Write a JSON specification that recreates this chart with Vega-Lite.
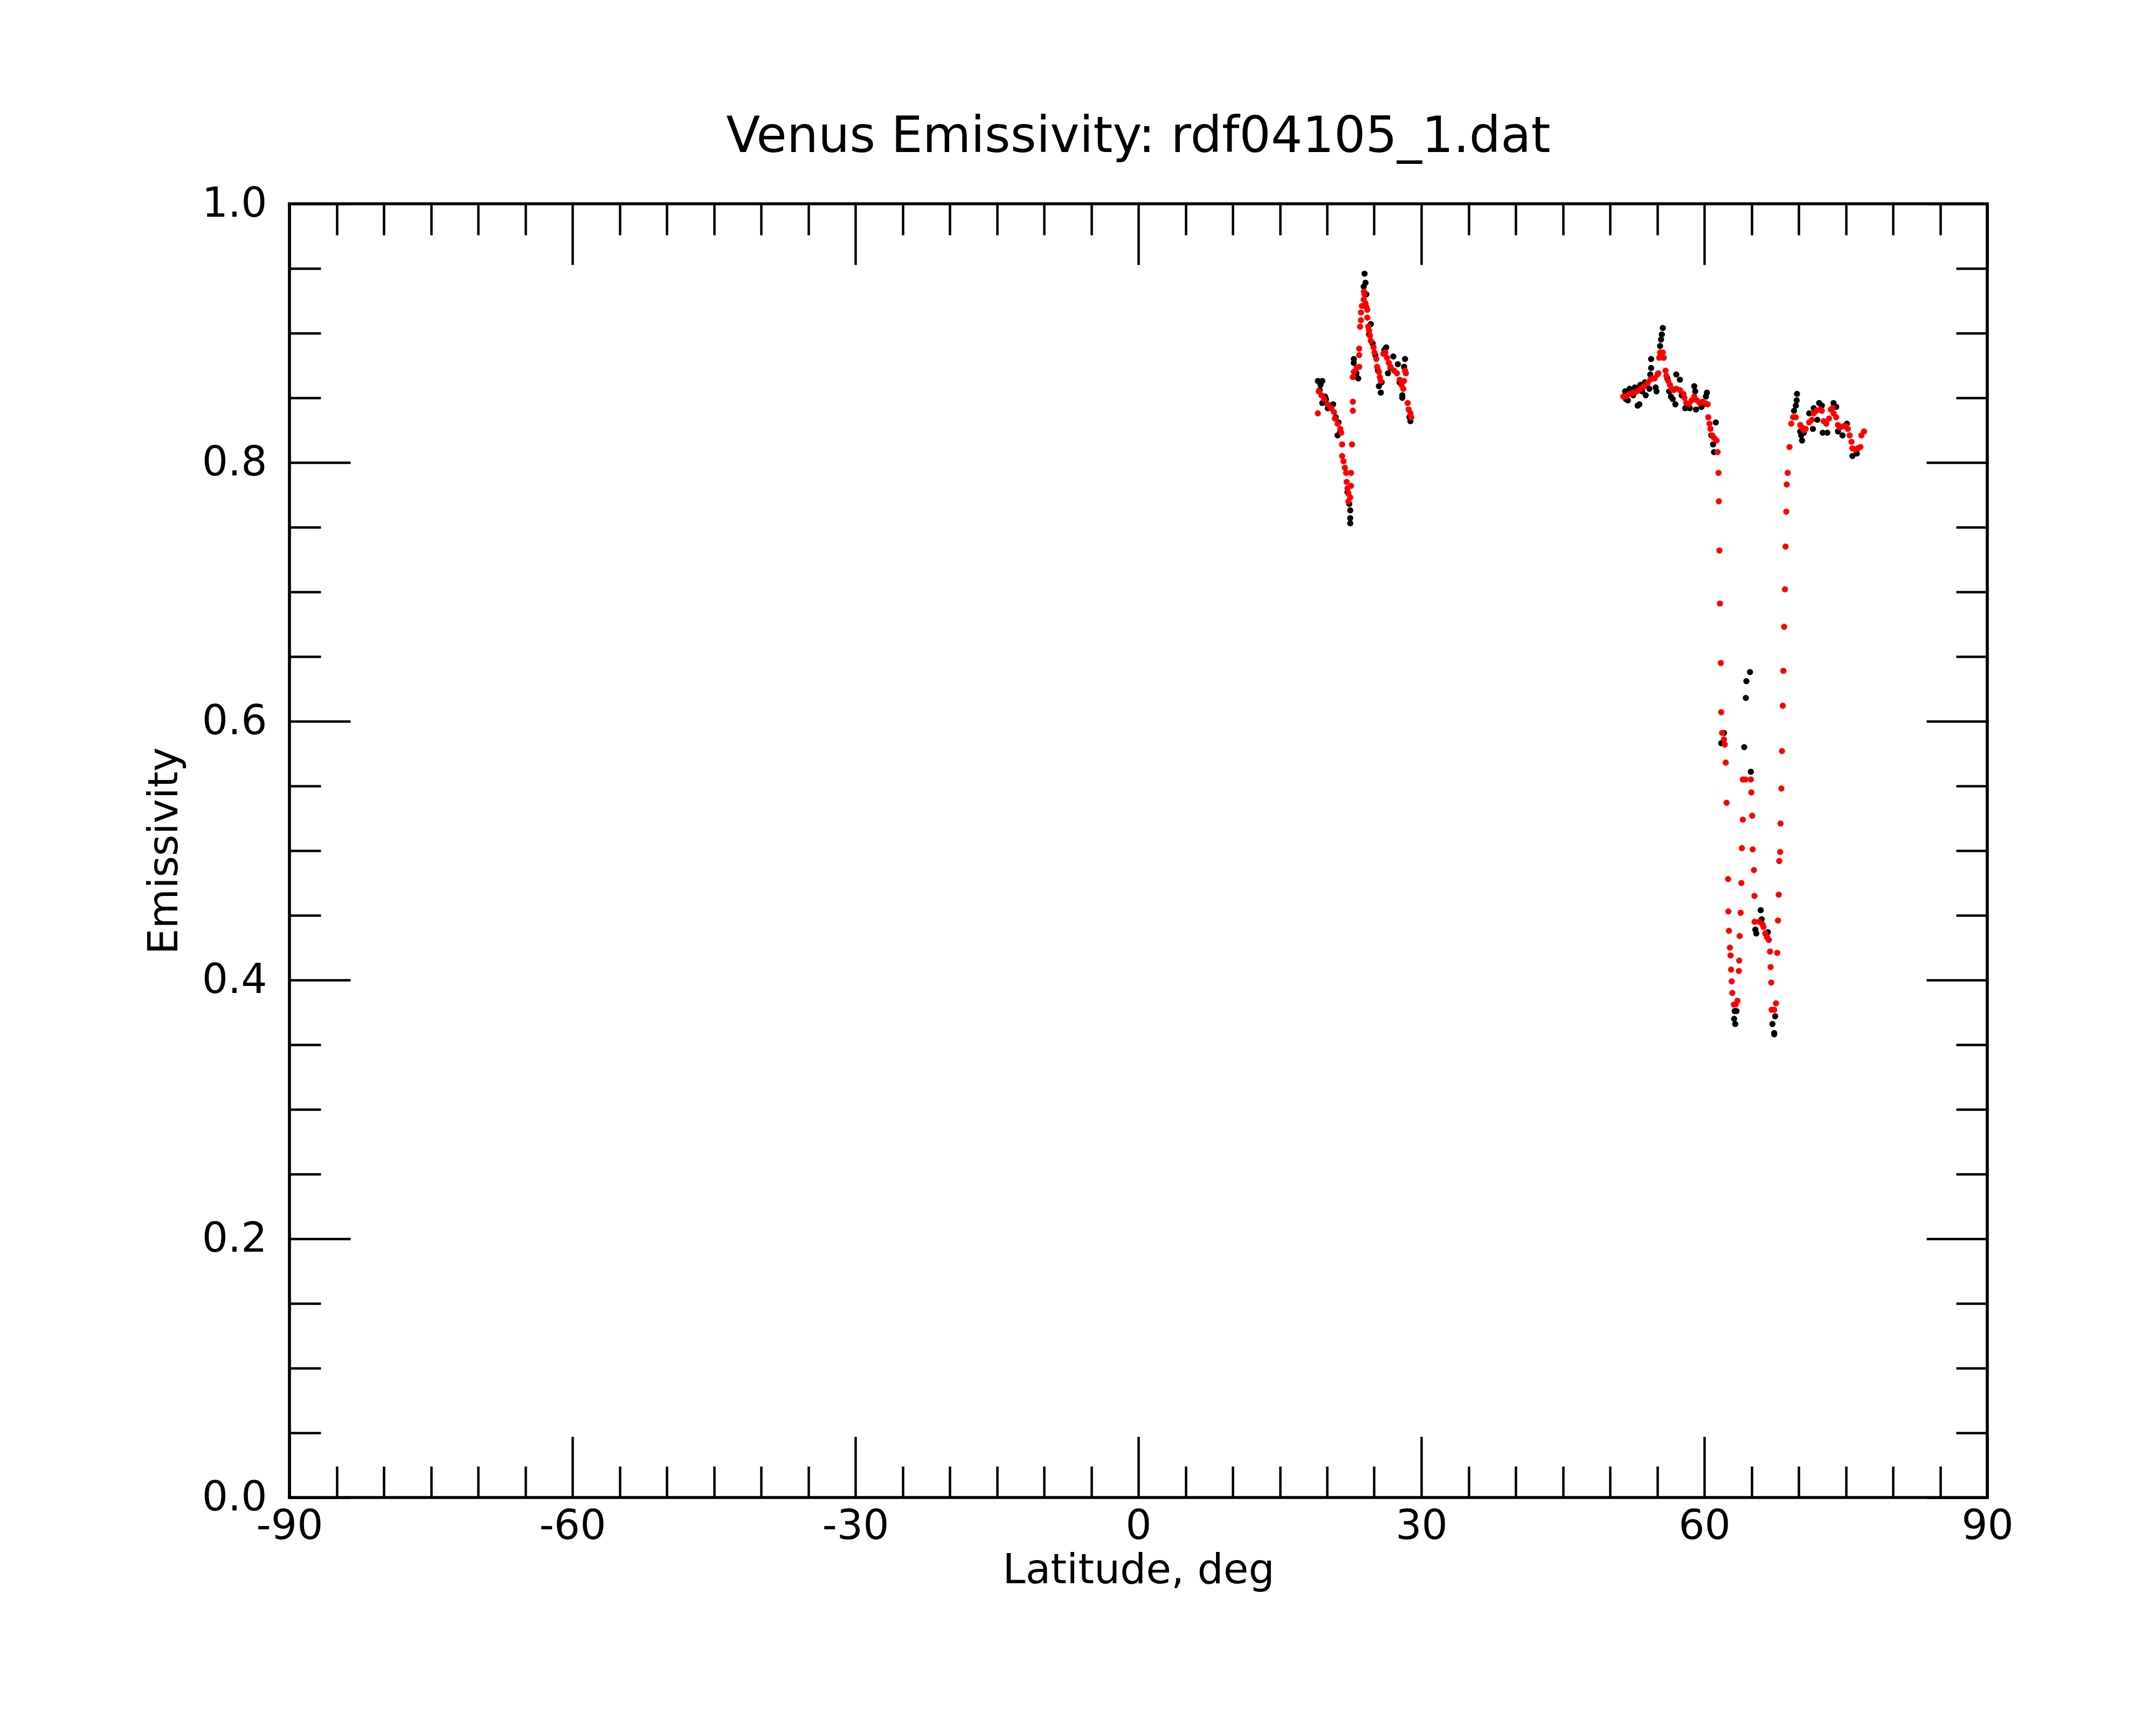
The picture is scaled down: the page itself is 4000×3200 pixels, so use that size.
{
  "$schema": "https://vega.github.io/schema/vega-lite/v6.json",
  "width": 3150,
  "height": 2400,
  "autosize": {"type": "none"},
  "padding": {"left": 537, "top": 378, "right": 313, "bottom": 422},
  "background": "white",
  "title": {
    "text": "Venus Emissivity: rdf04105_1.dat",
    "font": "DejaVu Sans",
    "fontSize": 92,
    "fontWeight": "normal",
    "color": "black",
    "anchor": "middle",
    "offset": 39
  },
  "datasets": {
    "black": [
      {"lat":19.03,"e":0.863},{"lat":19.50,"e":0.863},{"lat":19.31,"e":0.860},{"lat":19.22,"e":0.856},
      {"lat":19.50,"e":0.846},{"lat":19.79,"e":0.851},{"lat":19.89,"e":0.849},{"lat":20.08,"e":0.842},
      {"lat":20.36,"e":0.844},{"lat":20.65,"e":0.845},{"lat":20.93,"e":0.835},{"lat":21.22,"e":0.831},
      {"lat":21.12,"e":0.821},{"lat":21.41,"e":0.824},{"lat":22.17,"e":0.777},{"lat":22.36,"e":0.768},
      {"lat":22.46,"e":0.763},{"lat":22.46,"e":0.757},{"lat":22.46,"e":0.753},{"lat":22.84,"e":0.880},
      {"lat":22.84,"e":0.877},{"lat":23.12,"e":0.869},{"lat":23.31,"e":0.865},{"lat":23.98,"e":0.946},
      {"lat":24.08,"e":0.939},{"lat":23.89,"e":0.936},{"lat":24.17,"e":0.930},{"lat":24.08,"e":0.921},
      {"lat":24.65,"e":0.907},{"lat":24.46,"e":0.899},{"lat":24.84,"e":0.892},{"lat":25.12,"e":0.883},
      {"lat":25.41,"e":0.871},{"lat":25.79,"e":0.862},{"lat":25.50,"e":0.859},{"lat":25.70,"e":0.854},
      {"lat":26.08,"e":0.887},{"lat":26.27,"e":0.889},{"lat":26.46,"e":0.869},{"lat":26.74,"e":0.873},
      {"lat":27.03,"e":0.882},{"lat":27.51,"e":0.876},{"lat":27.70,"e":0.862},{"lat":27.98,"e":0.852},
      {"lat":27.98,"e":0.850},{"lat":28.17,"e":0.874},{"lat":28.27,"e":0.880},{"lat":28.74,"e":0.835},
      {"lat":28.84,"e":0.832},
      {"lat":51.60,"e":0.855},{"lat":51.70,"e":0.849},{"lat":51.89,"e":0.848},{"lat":52.08,"e":0.857},
      {"lat":52.46,"e":0.852},{"lat":52.65,"e":0.858},{"lat":52.93,"e":0.844},{"lat":53.12,"e":0.845},
      {"lat":53.22,"e":0.860},{"lat":53.41,"e":0.855},{"lat":53.70,"e":0.862},{"lat":53.79,"e":0.852},
      {"lat":54.17,"e":0.857},{"lat":54.27,"e":0.868},{"lat":54.36,"e":0.880},{"lat":54.36,"e":0.873},
      {"lat":54.84,"e":0.858},{"lat":54.93,"e":0.855},{"lat":55.31,"e":0.890},{"lat":55.41,"e":0.895},
      {"lat":55.50,"e":0.899},{"lat":55.60,"e":0.904},{"lat":56.08,"e":0.865},{"lat":56.27,"e":0.855},
      {"lat":56.46,"e":0.851},{"lat":56.65,"e":0.849},{"lat":56.93,"e":0.845},{"lat":57.03,"e":0.868},
      {"lat":57.41,"e":0.864},{"lat":57.60,"e":0.852},{"lat":57.98,"e":0.842},{"lat":58.46,"e":0.842},
      {"lat":58.93,"e":0.859},{"lat":59.03,"e":0.855},{"lat":59.12,"e":0.841},{"lat":59.70,"e":0.843},
      {"lat":59.89,"e":0.845},{"lat":60.17,"e":0.851},{"lat":60.27,"e":0.854},{"lat":60.74,"e":0.821},
      {"lat":60.93,"e":0.814},{"lat":61.03,"e":0.808},{"lat":61.22,"e":0.831},{"lat":61.79,"e":0.583},
      {"lat":62.08,"e":0.591},{"lat":63.16,"e":0.370},{"lat":63.22,"e":0.376},{"lat":63.28,"e":0.366},
      {"lat":63.41,"e":0.376},{"lat":64.23,"e":0.580},{"lat":64.40,"e":0.618},{"lat":64.46,"e":0.631},
      {"lat":64.84,"e":0.638},{"lat":64.93,"e":0.561},{"lat":65.41,"e":0.439},{"lat":65.51,"e":0.436},
      {"lat":65.98,"e":0.454},{"lat":66.08,"e":0.447},{"lat":66.74,"e":0.437},{"lat":67.22,"e":0.366},
      {"lat":67.41,"e":0.359},{"lat":67.41,"e":0.358},{"lat":67.51,"e":0.372},{"lat":69.51,"e":0.840},
      {"lat":69.70,"e":0.844},{"lat":69.79,"e":0.848},{"lat":69.83,"e":0.853},{"lat":70.17,"e":0.824},
      {"lat":70.27,"e":0.821},{"lat":70.36,"e":0.817},{"lat":70.55,"e":0.823},{"lat":71.12,"e":0.838},
      {"lat":71.51,"e":0.826},{"lat":71.60,"e":0.842},{"lat":71.98,"e":0.833},{"lat":72.17,"e":0.846},
      {"lat":72.46,"e":0.844},{"lat":72.55,"e":0.823},{"lat":73.03,"e":0.823},{"lat":73.70,"e":0.846},
      {"lat":73.98,"e":0.843},{"lat":74.17,"e":0.824},{"lat":74.65,"e":0.821},{"lat":75.12,"e":0.830},
      {"lat":75.70,"e":0.805},{"lat":76.17,"e":0.807}
    ],
    "red": [
      {"lat":19.12,"e":0.855},{"lat":19.41,"e":0.852},{"lat":19.70,"e":0.849},{"lat":20.08,"e":0.845},
      {"lat":20.46,"e":0.842},{"lat":20.74,"e":0.839},{"lat":20.84,"e":0.834},{"lat":21.12,"e":0.830},
      {"lat":21.41,"e":0.826},{"lat":21.51,"e":0.823},{"lat":19.03,"e":0.838},{"lat":21.60,"e":0.814},
      {"lat":22.65,"e":0.814},{"lat":21.60,"e":0.805},{"lat":21.75,"e":0.801},{"lat":21.89,"e":0.796},
      {"lat":22.02,"e":0.792},{"lat":22.55,"e":0.792},{"lat":22.08,"e":0.785},{"lat":22.55,"e":0.782},
      {"lat":22.17,"e":0.780},{"lat":22.27,"e":0.776},{"lat":22.46,"e":0.773},{"lat":22.27,"e":0.770},
      {"lat":22.74,"e":0.847},{"lat":22.74,"e":0.840},{"lat":22.84,"e":0.870},{"lat":23.12,"e":0.873},
      {"lat":23.41,"e":0.874},{"lat":22.74,"e":0.866},{"lat":23.41,"e":0.888},{"lat":23.41,"e":0.883},
      {"lat":23.92,"e":0.932},{"lat":23.98,"e":0.930},{"lat":23.89,"e":0.926},{"lat":24.08,"e":0.923},
      {"lat":24.17,"e":0.920},{"lat":24.27,"e":0.918},{"lat":23.70,"e":0.921},{"lat":23.60,"e":0.916},
      {"lat":23.60,"e":0.910},{"lat":23.51,"e":0.905},{"lat":24.27,"e":0.912},{"lat":24.36,"e":0.905},
      {"lat":24.46,"e":0.902},{"lat":24.55,"e":0.898},{"lat":24.65,"e":0.894},{"lat":24.93,"e":0.889},
      {"lat":25.03,"e":0.885},{"lat":25.22,"e":0.880},{"lat":25.31,"e":0.874},{"lat":25.50,"e":0.870},
      {"lat":25.60,"e":0.866},{"lat":25.70,"e":0.863},{"lat":25.98,"e":0.884},{"lat":26.17,"e":0.885},
      {"lat":26.36,"e":0.881},{"lat":26.55,"e":0.877},{"lat":26.74,"e":0.874},{"lat":27.12,"e":0.871},
      {"lat":27.41,"e":0.869},{"lat":27.70,"e":0.864},{"lat":27.89,"e":0.860},{"lat":28.08,"e":0.857},
      {"lat":28.27,"e":0.871},{"lat":28.36,"e":0.869},{"lat":28.17,"e":0.863},{"lat":28.55,"e":0.846},
      {"lat":28.65,"e":0.841},{"lat":28.84,"e":0.838},{"lat":28.93,"e":0.835},
      {"lat":51.41,"e":0.851},{"lat":51.70,"e":0.851},{"lat":52.08,"e":0.853},{"lat":52.46,"e":0.854},
      {"lat":52.84,"e":0.855},{"lat":53.22,"e":0.857},{"lat":53.60,"e":0.859},{"lat":53.98,"e":0.861},
      {"lat":54.27,"e":0.864},{"lat":54.46,"e":0.865},{"lat":54.74,"e":0.865},{"lat":55.03,"e":0.868},
      {"lat":55.12,"e":0.869},{"lat":55.22,"e":0.881},{"lat":55.31,"e":0.885},{"lat":55.60,"e":0.885},
      {"lat":55.70,"e":0.881},{"lat":55.89,"e":0.871},{"lat":55.98,"e":0.867},{"lat":56.17,"e":0.863},
      {"lat":56.36,"e":0.860},{"lat":56.55,"e":0.857},{"lat":56.74,"e":0.856},{"lat":57.03,"e":0.857},
      {"lat":57.41,"e":0.856},{"lat":57.79,"e":0.853},{"lat":57.89,"e":0.850},{"lat":58.08,"e":0.846},
      {"lat":58.36,"e":0.845},{"lat":58.65,"e":0.848},{"lat":58.93,"e":0.851},{"lat":59.22,"e":0.848},
      {"lat":59.50,"e":0.846},{"lat":59.79,"e":0.847},{"lat":60.08,"e":0.846},{"lat":60.36,"e":0.845},
      {"lat":60.42,"e":0.835},{"lat":60.55,"e":0.830},{"lat":60.65,"e":0.826},{"lat":60.84,"e":0.821},
      {"lat":61.03,"e":0.819},{"lat":61.31,"e":0.817},{"lat":61.41,"e":0.808},{"lat":61.50,"e":0.792},
      {"lat":61.54,"e":0.770},{"lat":61.60,"e":0.732},{"lat":61.66,"e":0.691},{"lat":61.75,"e":0.645},
      {"lat":61.79,"e":0.607},{"lat":61.89,"e":0.591},{"lat":62.08,"e":0.586},{"lat":62.17,"e":0.582},
      {"lat":62.27,"e":0.568},{"lat":62.36,"e":0.537},{"lat":62.52,"e":0.478},{"lat":62.55,"e":0.453},
      {"lat":62.61,"e":0.438},{"lat":62.71,"e":0.425},{"lat":62.78,"e":0.419},{"lat":62.84,"e":0.408},
      {"lat":62.90,"e":0.399},{"lat":62.97,"e":0.390},{"lat":63.13,"e":0.381},{"lat":63.32,"e":0.381},
      {"lat":63.51,"e":0.384},{"lat":63.66,"e":0.407},{"lat":63.70,"e":0.415},{"lat":63.75,"e":0.434},
      {"lat":63.85,"e":0.452},{"lat":63.93,"e":0.475},{"lat":63.98,"e":0.502},{"lat":64.08,"e":0.524},
      {"lat":64.08,"e":0.555},{"lat":64.36,"e":0.555},{"lat":64.93,"e":0.555},{"lat":64.99,"e":0.545},
      {"lat":65.07,"e":0.527},{"lat":65.13,"e":0.501},{"lat":65.26,"e":0.485},{"lat":65.32,"e":0.465},
      {"lat":65.32,"e":0.445},{"lat":65.79,"e":0.445},{"lat":66.17,"e":0.443},{"lat":66.27,"e":0.441},
      {"lat":66.46,"e":0.436},{"lat":66.65,"e":0.433},{"lat":66.84,"e":0.431},{"lat":66.97,"e":0.422},
      {"lat":67.03,"e":0.410},{"lat":67.09,"e":0.398},{"lat":67.13,"e":0.377},{"lat":67.41,"e":0.377},
      {"lat":67.60,"e":0.382},{"lat":67.73,"e":0.421},{"lat":67.81,"e":0.446},{"lat":67.89,"e":0.466},
      {"lat":67.94,"e":0.492},{"lat":68.04,"e":0.499},{"lat":68.08,"e":0.521},{"lat":68.17,"e":0.548},
      {"lat":68.23,"e":0.577},{"lat":68.32,"e":0.612},{"lat":68.38,"e":0.639},{"lat":68.46,"e":0.673},
      {"lat":68.55,"e":0.702},{"lat":68.61,"e":0.735},{"lat":68.69,"e":0.762},{"lat":68.74,"e":0.783},
      {"lat":68.84,"e":0.792},{"lat":69.03,"e":0.812},{"lat":69.22,"e":0.830},{"lat":69.41,"e":0.835},
      {"lat":69.70,"e":0.835},{"lat":70.17,"e":0.829},{"lat":70.36,"e":0.827},{"lat":70.55,"e":0.825},
      {"lat":70.74,"e":0.826},{"lat":71.12,"e":0.831},{"lat":71.41,"e":0.833},{"lat":71.60,"e":0.838},
      {"lat":71.89,"e":0.840},{"lat":72.27,"e":0.841},{"lat":72.46,"e":0.840},{"lat":72.65,"e":0.832},
      {"lat":72.93,"e":0.830},{"lat":73.22,"e":0.834},{"lat":73.41,"e":0.841},{"lat":73.60,"e":0.842},
      {"lat":73.70,"e":0.838},{"lat":73.98,"e":0.835},{"lat":74.17,"e":0.829},{"lat":74.36,"e":0.827},
      {"lat":74.74,"e":0.828},{"lat":75.03,"e":0.828},{"lat":75.22,"e":0.826},{"lat":75.41,"e":0.821},
      {"lat":75.60,"e":0.816},{"lat":75.70,"e":0.811},{"lat":75.98,"e":0.810},{"lat":76.27,"e":0.811},
      {"lat":76.55,"e":0.812},{"lat":76.65,"e":0.821},{"lat":76.93,"e":0.824}
    ]
  },
  "layer": [
    {
      "data": {"name": "black"},
      "mark": {"type": "circle", "color": "black", "size": 130, "opacity": 1},
      "encoding": {
        "x": {"field": "lat", "type": "quantitative",
          "scale": {"domain": [-90, 90], "nice": false, "zero": false},
          "axis": {"orient": "bottom", "values": [-90, -60, -30, 0, 30, 60, 90],
            "labelExpr": "'' + datum.value",
            "ticks": false, "labelPadding": 16, "labelFlush": false, "labelOverlap": false,
            "title": "Latitude, deg", "titlePadding": 7}},
        "y": {"field": "e", "type": "quantitative",
          "scale": {"domain": [0, 1], "nice": false, "zero": false},
          "axis": {"orient": "left", "values": [0, 0.2, 0.4, 0.6, 0.8, 1], "format": ".1f",
            "ticks": false, "labelPadding": 42, "labelFlush": false, "labelOverlap": false,
            "title": "Emissivity", "titlePadding": 30}}
      }
    },
    {
      "data": {"name": "red"},
      "mark": {"type": "circle", "color": "#ff0000", "size": 130, "opacity": 1},
      "encoding": {
        "x": {"field": "lat", "type": "quantitative",
          "scale": {"domain": [-90, 90], "nice": false, "zero": false},
          "axis": {"orient": "bottom", "values": [-90, -60, -30, 0, 30, 60, 90],
            "labels": false, "tickSize": -113, "title": null}},
        "y": {"field": "e", "type": "quantitative",
          "scale": {"domain": [0, 1], "nice": false, "zero": false},
          "axis": {"orient": "left", "values": [0, 0.2, 0.4, 0.6, 0.8, 1],
            "labels": false, "tickSize": -113, "title": null}}
      }
    },
    {
      "data": {"name": "black"},
      "mark": {"type": "circle", "opacity": 0},
      "encoding": {
        "x": {"field": "lat", "type": "quantitative",
          "scale": {"domain": [-90, 90], "nice": false, "zero": false},
          "axis": {"orient": "bottom",
            "values": [-85, -80, -75, -70, -65, -55, -50, -45, -40, -35, -25, -20, -15, -10, -5, 5, 10, 15, 20, 25, 35, 40, 45, 50, 55, 65, 70, 75, 80, 85],
            "labels": false, "tickSize": -58, "title": null}},
        "y": {"field": "e", "type": "quantitative",
          "scale": {"domain": [0, 1], "nice": false, "zero": false},
          "axis": {"orient": "left",
            "values": [0.05, 0.1, 0.15, 0.25, 0.3, 0.35, 0.45, 0.5, 0.55, 0.65, 0.7, 0.75, 0.85, 0.9, 0.95],
            "labels": false, "tickSize": -58, "title": null}}
      }
    },
    {
      "data": {"name": "black"},
      "mark": {"type": "circle", "opacity": 0},
      "encoding": {
        "x": {"field": "lat", "type": "quantitative",
          "scale": {"domain": [-90, 90], "nice": false, "zero": false},
          "axis": {"orient": "top", "values": [-90, -60, -30, 0, 30, 60, 90],
            "labels": false, "tickSize": -113, "title": null}},
        "y": {"field": "e", "type": "quantitative",
          "scale": {"domain": [0, 1], "nice": false, "zero": false},
          "axis": {"orient": "right", "values": [0, 0.2, 0.4, 0.6, 0.8, 1],
            "labels": false, "tickSize": -113, "title": null}}
      }
    },
    {
      "data": {"name": "black"},
      "mark": {"type": "circle", "opacity": 0},
      "encoding": {
        "x": {"field": "lat", "type": "quantitative",
          "scale": {"domain": [-90, 90], "nice": false, "zero": false},
          "axis": {"orient": "top",
            "values": [-85, -80, -75, -70, -65, -55, -50, -45, -40, -35, -25, -20, -15, -10, -5, 5, 10, 15, 20, 25, 35, 40, 45, 50, 55, 65, 70, 75, 80, 85],
            "labels": false, "tickSize": -58, "title": null}},
        "y": {"field": "e", "type": "quantitative",
          "scale": {"domain": [0, 1], "nice": false, "zero": false},
          "axis": {"orient": "right",
            "values": [0.05, 0.1, 0.15, 0.25, 0.3, 0.35, 0.45, 0.5, 0.55, 0.65, 0.7, 0.75, 0.85, 0.9, 0.95],
            "labels": false, "tickSize": -58, "title": null}}
      }
    }
  ],
  "resolve": {"axis": {"x": "independent", "y": "independent"}},
  "config": {
    "view": {"stroke": "black", "strokeWidth": 5.7},
    "axis": {
      "domain": false,
      "grid": false,
      "tickColor": "black",
      "tickWidth": 4.5,
      "labelFont": "DejaVu Sans",
      "labelFontSize": 76,
      "labelColor": "black",
      "titleFont": "DejaVu Sans",
      "titleFontSize": 76,
      "titleFontWeight": "normal",
      "titleColor": "black"
    }
  }
}
